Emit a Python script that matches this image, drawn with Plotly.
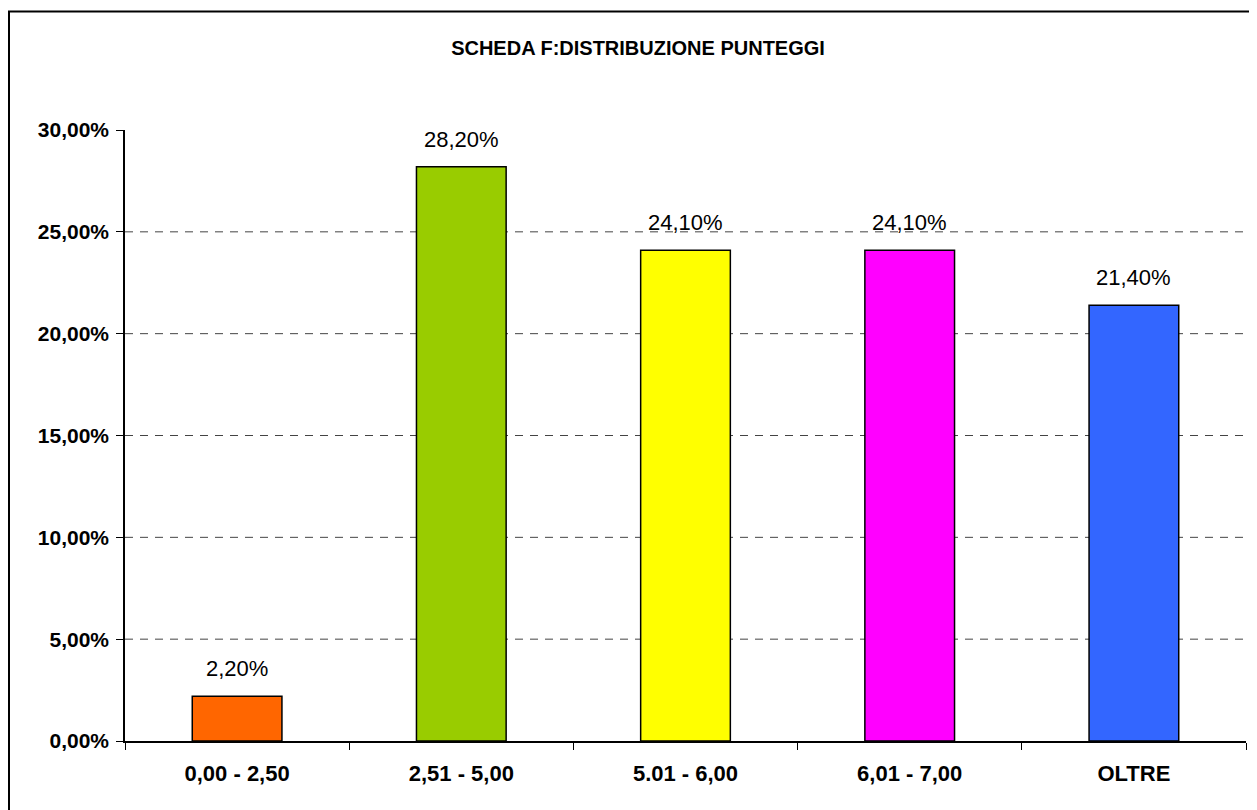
import plotly.graph_objects as go

categories = ["0,00 - 2,50", "2,51 - 5,00", "5.01 - 6,00", "6,01 - 7,00", "OLTRE"]
values = [0.022, 0.282, 0.241, 0.241, 0.214]
colors = ["#FF6600", "#99CC00", "#FFFF00", "#FF00FF", "#3366FF"]
grid_vals = [0.05, 0.10, 0.15, 0.20, 0.25]
tick_vals = [0.0, 0.05, 0.10, 0.15, 0.20, 0.25, 0.30]
title_text = "SCHEDA F:DISTRIBUZIONE PUNTEGGI"

FONT = "Liberation Sans, Arial, sans-serif"

# page body has an 8px margin; figure placed at (8, 8)
W, H = 1249, 802
ML, MR, MT, MB = 117, 11, 122, 69
PW = W - ML - MR
PH = H - MT - MB


def px_x(p):
    return (p - ML) / PW


def px_y(p):
    return (H - MB - p) / PH


fig = go.Figure()
fig.add_trace(go.Bar(
    x=categories, y=values,
    marker=dict(color=colors, line=dict(color="black", width=1.5)),
    width=0.4,
    hoverinfo="skip",
))

for c, v in zip(categories, values):
    fig.add_annotation(
        x=c, y=v, xref="x", yref="y",
        text=f"{v*100:.2f}%".replace(".", ","),
        showarrow=False, yanchor="bottom", yshift=13,
        font=dict(family=FONT, size=22, color="black"),
    )

for g in grid_vals:
    fig.add_shape(
        type="line", xref="paper", yref="y", x0=0, x1=1, y0=g, y1=g,
        line=dict(color="#444444", width=1, dash="8px,7px"), layer="below",
    )

# outer chart border: left and top edges
fig.add_shape(type="line", xref="paper", yref="paper",
              x0=px_x(1), x1=px_x(1), y0=px_y(H), y1=px_y(3),
              line=dict(color="black", width=2))
fig.add_shape(type="line", xref="paper", yref="paper",
              x0=px_x(0), x1=px_x(W), y0=px_y(3.5), y1=px_y(3.5),
              line=dict(color="black", width=2))

fig.update_layout(
    width=W, height=H,
    margin=dict(l=ML, r=MR, t=MT, b=MB),
    paper_bgcolor="white", plot_bgcolor="white",
    separators=",.",
    showlegend=False,
    font=dict(family=FONT, color="black"),
    title=dict(
        text=f"<b>{title_text}</b>", x=(638 - 8) / W, xref="container",
        y=1 - (48 - 8) / H, yref="container", xanchor="center", yanchor="middle",
        font=dict(family=FONT, size=20, color="black"),
    ),
    xaxis=dict(
        showline=True, linecolor="black", linewidth=1.5,
        ticks="outside", tickson="boundaries", ticklen=7, tickcolor="black",
        tickfont=dict(family=FONT, size=22, color="black", weight="bold"),
        showgrid=False, ticklabelstandoff=12,
    ),
    yaxis=dict(
        range=[0, 0.30], tickvals=tick_vals, tickformat=".2%",
        showline=True, linecolor="black", linewidth=1.5,
        ticks="outside", ticklen=7, tickcolor="black",
        tickfont=dict(family=FONT, size=21, color="black", weight="bold"),
        showgrid=False, zeroline=False, ticklabelstandoff=3,
    ),
)

fig.write_html("out.html")
